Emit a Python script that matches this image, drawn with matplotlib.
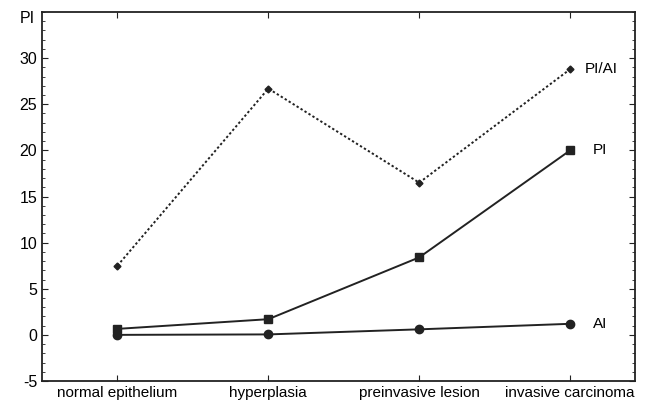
import matplotlib.pyplot as plt
from matplotlib.ticker import MultipleLocator

categories = ["normal epithelium", "hyperplasia", "preinvasive lesion", "invasive carcinoma"]
pi_ai = [7.5, 26.7, 16.5, 28.8]
pi = [0.65, 1.7, 8.4, 20.0]
ai = [0.0, 0.05, 0.6, 1.2]

plt.rcParams['font.family'] = ['Liberation Sans', 'DejaVu Sans']
plt.rcParams['axes.unicode_minus'] = False

fig = plt.figure(figsize=(6.46, 4.03), dpi=100)
ax = fig.add_axes([0.065, 0.0546, 0.918, 0.9156])

x = range(len(categories))
ax.plot(x, pi_ai, ls=(0, (1.2, 1.2)), color='#222222', lw=1.4, marker='D', ms=3.5)
ax.plot(x, pi, ls='-', color='#222222', lw=1.4, marker='s', ms=6)
ax.plot(x, ai, ls='-', color='#222222', lw=1.4, marker='o', ms=6)

ax.text(3.1, pi_ai[-1], "PI/AI", va='center', ha='left', fontsize=11)
ax.text(3.15, pi[-1], "PI", va='center', ha='left', fontsize=11)
ax.text(3.15, ai[-1], "AI", va='center', ha='left', fontsize=11)

ax.set_xlim(-0.5, 3.43)
ax.set_ylim(-5, 35)
ax.set_xticks(list(x))
ax.set_xticklabels(categories, fontsize=11)
ax.set_yticks([-5, 0, 5, 10, 15, 20, 25, 30])
ax.yaxis.set_minor_locator(MultipleLocator(1))
ax.tick_params(axis='y', labelsize=11.5)
ax.tick_params(which='both', direction='in', top=True, right=True, color='#222222')
ax.tick_params(which='major', length=4)
ax.tick_params(which='minor', length=2.5)
for s in ax.spines.values():
    s.set_linewidth(1.3)
    s.set_color('#222222')

fig.text(0.031, 0.955, "PI", fontsize=11.5, ha='left', va='center')

fig.savefig('out.png', dpi=100)
